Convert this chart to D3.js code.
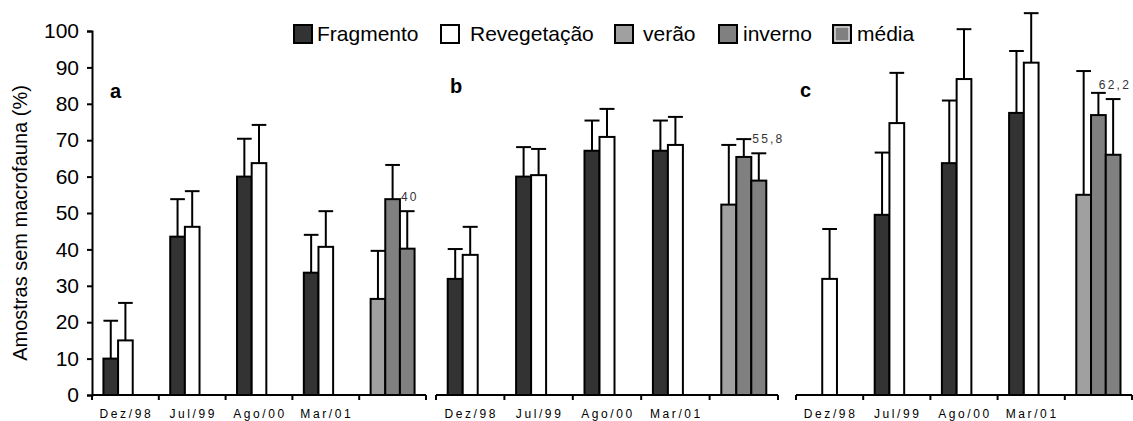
<!DOCTYPE html>
<html><head><meta charset="utf-8">
<script src="https://cdn.jsdelivr.net/npm/d3@7"></script>
<style>
body{margin:0;background:#fff}
svg{display:block;font-family:Arial,"Liberation Sans",sans-serif}
</style>
</head><body>
<svg id="chart" width="1133" height="421"></svg>
<script>
// ---------- data ----------
const categories = ["Dez/98", "Jul/99", "Ago/00", "Mar/01", "sazonal"];
const categoryLabels = ["Dez/98", "Jul/99", "Ago/00", "Mar/01", ""];
const panelNames = ["a", "b", "c"];
const seriesNames = ["Fragmento", "Revegetação", "verão", "inverno", "média"];
const seriesColors = ["#333333", "#ffffff", "#a0a0a0", "#808080", "#808080"];
const yTickValues = [0, 10, 20, 30, 40, 50, 60, 70, 80, 90, 100];

// panel a
const fragmentoA = [10, 43.5, 60, 33.6];
const fragmentoErrA = [10.4, 10.3, 10.4, 10.4];
const revegetacaoA = [15, 46.2, 63.7, 40.7];
const revegetacaoErrA = [10.3, 9.8, 10.5, 9.8];
const sazonalA = [26.4, 53.8, 40.2];      // verão, inverno, média
const sazonalErrA = [13.2, 9.4, 10.3];
const mediaLabelA = "40";

// panel b
const fragmentoB = [31.9, 60, 67.1, 67.1];
const fragmentoErrB = [8.2, 8.1, 8.3, 8.3];
const revegetacaoB = [38.5, 60.4, 70.9, 68.7];
const revegetacaoErrB = [7.7, 7.2, 7.7, 7.7];
const sazonalB = [52.3, 65.4, 58.9];
const sazonalErrB = [16.4, 4.9, 7.5];
const mediaLabelB = "55,8";

// panel c
const fragmentoC = [null, 49.5, 63.7, 77.5];
const fragmentoErrC = [null, 17.1, 17.2, 17.0];
const revegetacaoC = [31.9, 74.7, 86.8, 91.3];
const revegetacaoErrC = [13.7, 13.8, 13.7, 13.6];
const sazonalC = [55, 76.9, 66];
const sazonalErrC = [34, 6.1, 15.3];
const mediaLabelC = "62,2";

const panels = [
  {name: "a", frag: fragmentoA, fragErr: fragmentoErrA, rev: revegetacaoA, revErr: revegetacaoErrA, saz: sazonalA, sazErr: sazonalErrA, label: mediaLabelA},
  {name: "b", frag: fragmentoB, fragErr: fragmentoErrB, rev: revegetacaoB, revErr: revegetacaoErrB, saz: sazonalB, sazErr: sazonalErrB, label: mediaLabelB},
  {name: "c", frag: fragmentoC, fragErr: fragmentoErrC, rev: revegetacaoC, revErr: revegetacaoErrC, saz: sazonalC, sazErr: sazonalErrC, label: mediaLabelC}
];

// ---------- layout ----------
const W = 1133;
const svg = d3.select("#chart");
const panelRanges = [[92, 426], [436, 778], [796, 1132]];
const panelLetterPos = [[110, 98], [450, 93], [800, 97]];
const y = d3.scaleLinear().domain([0, 100]).range([395, 31]);
const color = d3.scaleOrdinal().domain(seriesNames).range(seriesColors);

// y axis
const yAxis = svg.append("g").attr("transform", `translate(${panelRanges[0][0]},0)`)
  .call(d3.axisLeft(y).tickValues(yTickValues).tickSize(5).tickPadding(8).tickFormat(d3.format("d")));
yAxis.select(".domain").attr("stroke", "#000").attr("stroke-width", 2);
yAxis.selectAll(".tick line").attr("stroke", "#000").attr("stroke-width", 2);
yAxis.selectAll("text").attr("font-size", 21).attr("fill", "#000").attr("font-family", "Arial, 'Liberation Sans', sans-serif");

svg.append("text")
  .attr("transform", `translate(27,${(y(0) + y(100)) / 2 + 10}) rotate(-90)`)
  .attr("text-anchor", "middle")
  .attr("font-size", 20)
  .attr("fill", "#000")
  .text("Amostras sem macrofauna (%)");

panels.forEach((p, pi) => {
  const [x0, x1] = panelRanges[pi];
  const x = d3.scaleBand().domain(categories).range([x0, x1]).padding(0);
  const slot = d3.scaleBand().domain([0, 1, 2]).range([0, x.bandwidth()]).paddingInner(0).paddingOuter(0.78);
  const g = svg.append("g");

  // rows
  const rows = [];
  for (let i = 0; i < 4; i++) {
    if (p.frag[i] != null) rows.push({cat: categories[i], slot: 0, series: "Fragmento", value: p.frag[i], err: p.fragErr[i]});
    if (p.rev[i] != null) rows.push({cat: categories[i], slot: 1, series: "Revegetação", value: p.rev[i], err: p.revErr[i]});
  }
  ["verão", "inverno", "média"].forEach((s, k) => {
    rows.push({cat: categories[4], slot: k, series: s, value: p.saz[k], err: p.sazErr[k]});
  });

  // error bars
  rows.forEach(r => {
    const bx = x(r.cat) + slot(r.slot);
    const bw = slot.bandwidth();
    const cx = bx + bw / 2;
    g.append("line").attr("x1", cx).attr("x2", cx).attr("y1", y(r.value)).attr("y2", y(r.value + r.err))
      .attr("stroke", "#000").attr("stroke-width", 2);
    g.append("line").attr("x1", bx).attr("x2", bx + bw).attr("y1", y(r.value + r.err)).attr("y2", y(r.value + r.err))
      .attr("stroke", "#000").attr("stroke-width", 2);
  });

  // bars
  g.selectAll("rect.bar").data(rows).join("rect").attr("class", "bar")
    .attr("x", d => x(d.cat) + slot(d.slot))
    .attr("y", d => y(d.value))
    .attr("width", slot.bandwidth())
    .attr("height", d => y(0) - y(d.value))
    .attr("fill", d => color(d.series))
    .attr("stroke", "#000").attr("stroke-width", 2);

  // média label
  const m = rows.find(r => r.series === "média");
  const lbl = g.append("text")
    .attr("y", y(m.value + m.err) - 10)
    .attr("font-size", 12).attr("letter-spacing", 2.2).attr("fill", "#333")
    .text(p.label);
  const len = lbl.node().getComputedTextLength();
  lbl.attr("x", Math.min(x(m.cat) + slot(2) + 1, W - 2 - len));

  // x axis line & ticks
  g.append("line").attr("x1", x0).attr("x2", x1).attr("y1", y(0)).attr("y2", y(0))
    .attr("stroke", "#000").attr("stroke-width", 2);
  const bounds = categories.map(c => x(c)).concat([x1]);
  g.selectAll("line.xt").data(bounds).join("line").attr("class", "xt")
    .attr("x1", d => d).attr("x2", d => d).attr("y1", y(0)).attr("y2", y(0) + 5)
    .attr("stroke", "#000").attr("stroke-width", 2);

  // x labels
  g.selectAll("text.xl").data(categories).join("text").attr("class", "xl")
    .attr("x", d => x(d) + x.bandwidth() / 2 + 1)
    .attr("y", 418)
    .attr("text-anchor", "middle")
    .attr("font-size", 12).attr("letter-spacing", 2.6).attr("fill", "#000")
    .text((d, i) => categoryLabels[i]);

  // panel letter
  g.append("text").attr("x", panelLetterPos[pi][0]).attr("y", panelLetterPos[pi][1])
    .attr("font-size", 20).attr("font-weight", "bold").attr("fill", "#000").text(p.name);
});

// legend
const legendSwatchX = [294, 441, 615, 719, 833];
const legendTextX = [317, 470, 643, 743, 857];
const lg = svg.append("g");
seriesNames.forEach((s, i) => {
  lg.append("rect").attr("x", legendSwatchX[i]).attr("y", 25).attr("width", 18).attr("height", 18)
    .attr("fill", color(s)).attr("stroke", "#000").attr("stroke-width", 2);
  if (s === "média") {
    lg.append("rect").attr("x", legendSwatchX[i] + 2).attr("y", 27).attr("width", 14).attr("height", 14)
      .attr("fill", "none").attr("stroke", "#fff").attr("stroke-width", 1);
  }
  lg.append("text").attr("x", legendTextX[i]).attr("y", 41).attr("font-size", 21).attr("fill", "#000").text(s);
});
</script>
</body></html>
